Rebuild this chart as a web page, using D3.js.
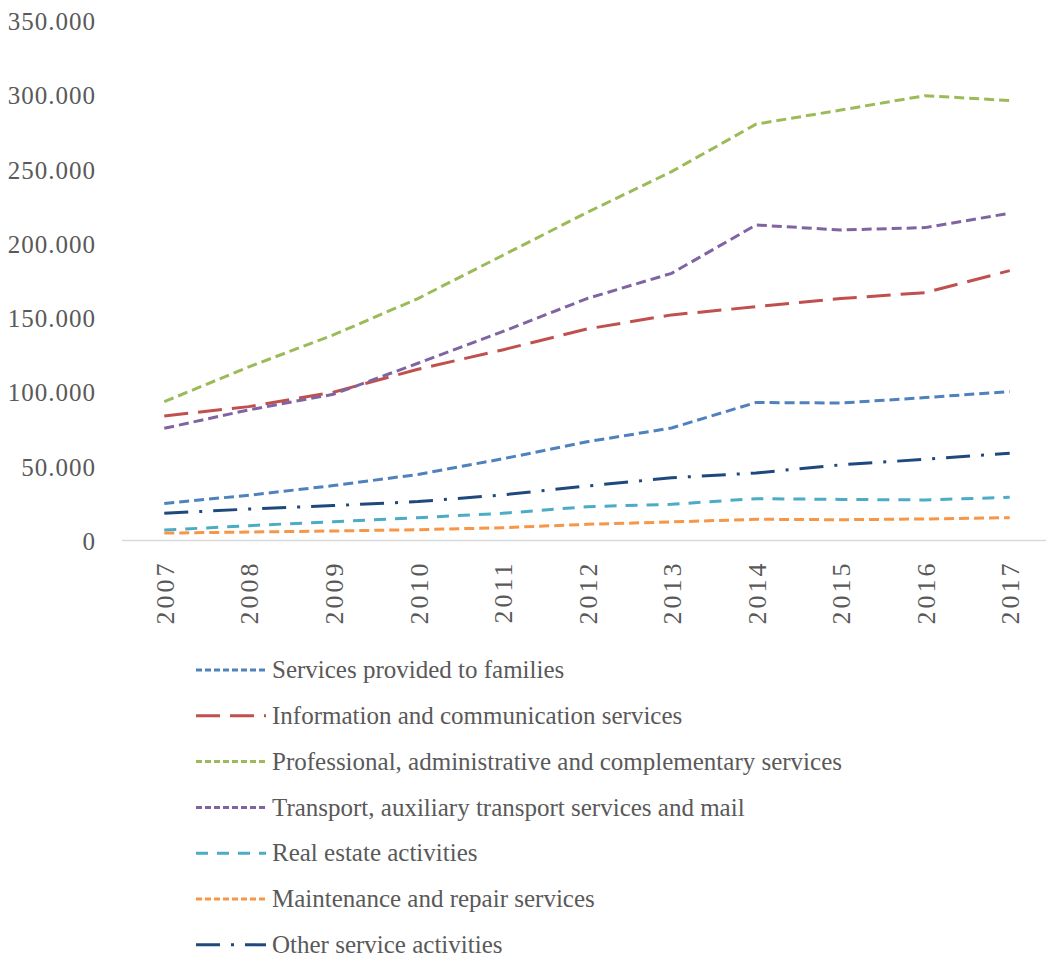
<!DOCTYPE html>
<html>
<head>
<meta charset="utf-8">
<script src="https://cdn.jsdelivr.net/npm/d3@7"></script>
<style>
  body { margin: 0; background: #fff; }
  text { font-family: "Liberation Serif", "DejaVu Serif", serif; fill: #595959; }
</style>
</head>
<body>
<svg id="chart" width="1046" height="958"></svg>
<script>
// data
var years = ["2007", "2008", "2009", "2010", "2011", "2012", "2013", "2014", "2015", "2016", "2017"];
var yTicks = [0, 50000, 100000, 150000, 200000, 250000, 300000, 350000];

var families      = [25000, 30500, 37000, 44500, 55000, 66500, 75800, 93000, 92600, 96300, 100300];
var infoComm      = [83900, 90200, 99900, 115400, 128400, 142500, 152000, 157500, 163000, 167000, 181800];
var professional  = [93500, 117000, 138500, 163000, 192000, 221000, 248500, 280500, 290000, 299700, 296400];
var transport     = [75600, 88000, 98500, 119400, 140700, 163000, 180000, 212600, 209200, 210800, 220500];
var realEstate    = [7000, 10000, 12700, 15400, 18300, 22800, 24400, 28200, 27700, 27300, 29100];
var maintenance   = [5000, 5700, 6400, 7300, 8600, 10900, 12500, 14300, 14000, 14500, 15400];
var otherServices = [18300, 21200, 23500, 26200, 30700, 36700, 42300, 45500, 51000, 54700, 58800];

var seriesNames = [
    "Services provided to families",
    "Information and communication services",
    "Professional, administrative and complementary services",
    "Transport, auxiliary transport services and mail",
    "Real estate activities",
    "Maintenance and repair services",
    "Other service activities"
];
var seriesValues = [families, infoComm, professional, transport, realEstate, maintenance, otherServices];
var colors = ["#4F81BD", "#C0504D", "#9BBB59", "#8064A2", "#4BACC6", "#F79646", "#1F497D"];
var dashes = ["10,5", "24,10", "10,5", "10,5", "12,9", "10,5", "24,11,3,11"];
var legendDashes = ["6,3", "24,10", "6,3", "6,3", "12,9", "6,3", "24,11,3,11"];

var svg = d3.select("#chart");

// scales
var x = d3.scalePoint()
    .domain(years)
    .range([122, 1052])
    .padding(0.5);

var y = d3.scaleLinear()
    .domain([0, 350000])
    .range([540.5, 21]);

// y axis (labels only)
var yAxis = d3.axisLeft(y)
    .tickValues(yTicks)
    .tickSize(0)
    .tickPadding(0)
    .tickFormat(function (d) {
        return d === 0 ? "0" : d3.format(",")(d).replace(/,/g, ".");
    });

var gy = svg.append("g").attr("transform", "translate(96,0)").call(yAxis);
gy.select(".domain").remove();
gy.selectAll("text")
    .attr("font-size", 25)
    .attr("font-family", "Liberation Serif")
    .attr("fill", "#595959")
    .attr("letter-spacing", 1)
    .attr("dy", "0.35em");

// x axis
var xAxis = d3.axisBottom(x).tickSize(0).tickPadding(0);
var gx = svg.append("g").attr("transform", "translate(0," + y(0) + ")").call(xAxis);
gx.select(".domain")
    .attr("d", "M122,0H1046")
    .attr("stroke", "#d9d9d9")
    .attr("stroke-width", 1.5);
gx.selectAll("text")
    .attr("font-size", 26)
    .attr("font-family", "Liberation Serif")
    .attr("fill", "#595959")
    .attr("letter-spacing", 3)
    .attr("text-anchor", "end")
    .attr("transform", "translate(0,20) rotate(-90)")
    .attr("x", 0)
    .attr("y", 0)
    .attr("dy", "0.35em");

// lines
var line = d3.line()
    .x(function (d, i) { return x(years[i]); })
    .y(function (d) { return y(d); });

seriesValues.forEach(function (vals, k) {
    svg.append("path")
        .datum(vals)
        .attr("d", line)
        .attr("fill", "none")
        .attr("stroke", colors[k])
        .attr("stroke-width", 3)
        .attr("stroke-dasharray", dashes[k])
        .attr("stroke-linejoin", "round");
});

// legend
var legend = svg.append("g");
seriesNames.forEach(function (name, k) {
    var ly = 670 + k * 45.8;
    legend.append("line")
        .attr("x1", 196).attr("x2", 266)
        .attr("y1", ly).attr("y2", ly)
        .attr("stroke", colors[k])
        .attr("stroke-width", 3)
        .attr("stroke-dasharray", legendDashes[k]);
    legend.append("text")
        .attr("x", 272)
        .attr("y", ly)
        .attr("dy", "0.33em")
        .attr("font-size", 25)
        .text(name);
});
</script>
</body>
</html>
